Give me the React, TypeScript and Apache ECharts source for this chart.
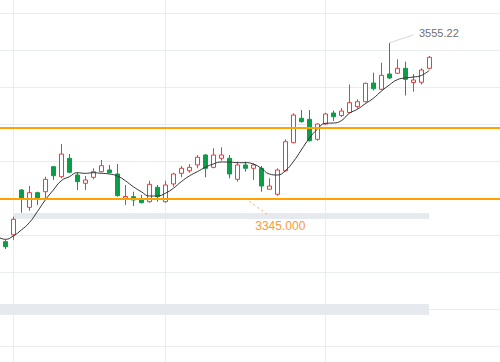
import React, { useEffect, useRef } from "react";
import * as echarts from "echarts";

// Candle values (one leading empty slot is added when building the series)
const opens = [3286.3, 3295.7, 3356.2, 3332.8, 3352.6, 3353.9, 3387.8, 3374.2, 3399.1, 3376.5, 3365.3, 3373.4, 3381, 3383.3, 3377.9, 3345, 3347.2, 3342.7, 3340.4, 3359.9, 3340.4, 3364.4, 3378.8, 3382.3, 3390.1, 3403.6, 3386.9, 3399.1, 3399.1, 3370.7, 3390.1, 3385.6, 3385.6, 3357.2, 3350.4, 3382.3, 3420.2, 3453.3, 3451.9, 3424.8, 3445.5, 3460.4, 3457, 3461.1, 3469, 3475.7, 3501, 3492.5, 3513.2, 3514.2, 3520.9, 3501.7, 3502, 3520.9];
const closes = [3279.5, 3316.6, 3343.6, 3352.6, 3343.6, 3370.7, 3375.6, 3404.9, 3380.2, 3367.5, 3369.8, 3381, 3389.1, 3379.6, 3348.5, 3347.4, 3342.7, 3339, 3363.9, 3347.2, 3363, 3377.9, 3385.6, 3386.9, 3400.5, 3385.6, 3403.6, 3403.6, 3377.9, 3390.1, 3385.6, 3390.1, 3361.6, 3361.6, 3383.3, 3421.6, 3457.7, 3448.7, 3422.9, 3445.5, 3459.1, 3455.4, 3463.1, 3474.4, 3475.7, 3500.6, 3493.3, 3511.4, 3507.8, 3520.9, 3506, 3505.1, 3518.6, 3535.8];
const lows = [3276.4, 3288.6, 3325.5, 3328.2, 3335.9, 3342.7, 3369.8, 3372.1, 3378.8, 3356.2, 3356.2, 3370.7, 3380.2, 3378.8, 3347.2, 3335.9, 3334.6, 3338.2, 3339, 3340.4, 3339, 3360.7, 3373.4, 3379.6, 3385.6, 3373.4, 3385.6, 3395.9, 3372.1, 3367.5, 3381, 3369.8, 3353.9, 3357.2, 3348.5, 3381, 3419.4, 3447.3, 3421.6, 3422.9, 3444.2, 3449.6, 3455, 3460.4, 3466.5, 3474.9, 3490.9, 3491.6, 3506.4, 3513.2, 3484.1, 3489.3, 3499, 3519.6];
const highs = [3288.6, 3320.1, 3357.6, 3361.6, 3353.9, 3374.2, 3388.7, 3418.5, 3404.9, 3380.2, 3375.2, 3385.6, 3396.8, 3390.1, 3391.4, 3363, 3353.9, 3349.5, 3368.8, 3363, 3368.8, 3379.6, 3388.7, 3391.4, 3403.6, 3404.9, 3412.7, 3414, 3403.6, 3394.5, 3394.5, 3392.4, 3388.7, 3372.1, 3385.6, 3424.8, 3460, 3464.5, 3464.5, 3446.5, 3460.8, 3463.8, 3467.2, 3499, 3479, 3501.4, 3515, 3528.5, 3555.22, 3533.1, 3529.8, 3513.2, 3520.9, 3537.6];

// Moving-average line (first value is the slot before the first candle)
const maLead = 3293.6;
const maValues = [3289.5, 3294, 3302.1, 3312, 3326.9, 3342.7, 3356.2, 3368.8, 3374.2, 3379.6, 3378.8, 3379.6, 3378.8, 3377.9, 3375.2, 3368.8, 3360.7, 3353.9, 3348.1, 3348.1, 3351.8, 3358.5, 3367.5, 3375.2, 3381, 3386.9, 3391.4, 3394.1, 3394.1, 3393.2, 3393.2, 3391.4, 3385.6, 3377.9, 3376.5, 3382.3, 3394.5, 3410.4, 3426.2, 3438.4, 3446.5, 3446.9, 3450, 3460, 3465.4, 3473, 3480.3, 3489.9, 3498.3, 3505.5, 3507.8, 3509.1, 3511.2, 3518.2];

// Reference levels
const upperLevel = 3440;
const lowerLevel = 3345;
const lowerLevelLabel = "3345.000";

// Category slots (axis has room beyond the last candle)
const categoryCount = 64;
const categories = Array.from({ length: categoryCount }, (_, i) => String(i));
const verticalGridIdx = [2, 21, 41];

export default function App() {
  const ref = useRef<HTMLDivElement>(null);

  useEffect(() => {
    if (!ref.current) return;
    const chart = echarts.init(ref.current, undefined, { renderer: "svg" });

    const candleData: any[] = [["-", "-", "-", "-"]];
    for (let i = 0; i < opens.length; i++) {
      candleData.push([opens[i], closes[i], lows[i], highs[i]]);
    }
    const maData = [maLead, ...maValues];

    const maxHigh = Math.max(...highs);
    const maxIdx = highs.indexOf(maxHigh) + 1;

    const option: any = {
      animation: false,
      textStyle: { fontFamily: "Liberation Sans, Arial, sans-serif" },
      grid: {
        left: -2.7,
        right: -1.3,
        top: -23.4,
        bottom: -21.05,
        containLabel: false,
        outerBoundsMode: "none",
      },
      xAxis: {
        type: "category",
        data: categories,
        boundaryGap: false,
        axisLine: { show: false },
        axisTick: { show: false },
        axisLabel: { show: false },
        splitLine: {
          show: true,
          interval: (i: number) => verticalGridIdx.includes(i),
          lineStyle: { color: "#e9ecf1", width: 1 },
        },
      },
      yAxis: {
        type: "value",
        min: 3095,
        max: 3645,
        interval: 50,
        axisLine: { show: false },
        axisTick: { show: false },
        axisLabel: { show: false },
        splitLine: { show: true, lineStyle: { color: "#e9ecf1", width: 1 } },
      },
      graphic: [
        { type: "rect", z: 1, shape: { x: 13, y: 213, width: 416, height: 6 }, style: { fill: "#e6e9ee" } },
        { type: "rect", z: 1, shape: { x: 0, y: 304, width: 429, height: 11 }, style: { fill: "#e6e9ee" } },
      ],
      series: [
        {
          type: "candlestick",
          data: candleData,
          barWidth: 4,
          itemStyle: {
            color: "#ffffff",
            color0: "#0b9e46",
            borderColor: "#eb3c3c",
            borderColor0: "#0b9e46",
            borderWidth: 1,
          },
          markLine: {
            silent: true,
            symbol: ["none", "none"],
            label: { show: false },
            data: [
              { yAxis: upperLevel, lineStyle: { color: "#ffa200", width: 2, type: "solid" } },
              { yAxis: lowerLevel, lineStyle: { color: "#ffa200", width: 2, type: "solid" } },
              [
                { coord: [31, lowerLevel], lineStyle: { color: "#f8a55a", width: 1, type: [2, 3] } },
                { coord: [34, 3321] },
              ],
              [
                {
                  coord: [maxIdx, maxHigh],
                  lineStyle: { color: "#d4d8e0", width: 1, type: "solid" },
                  label: {
                    show: true,
                    position: "end",
                    distance: 6,
                    formatter: String(maxHigh),
                    color: "#6e7079",
                    fontSize: 11,
                  },
                },
                { coord: [52, 3566] },
              ],
            ],
          },
          markPoint: {
            silent: true,
            data: [
              {
                coord: [35, 3308],
                symbol: "circle",
                symbolSize: 1,
                itemStyle: { color: "rgba(0,0,0,0)" },
                label: {
                  show: true,
                  position: "inside",
                  offset: [3, 0],
                  formatter: lowerLevelLabel,
                  color: "#f89a3a",
                  fontSize: 12,
                },
              },
            ],
          },
        },
        {
          type: "line",
          data: maData,
          smooth: true,
          symbol: "none",
          lineStyle: { color: "#333333", width: 1 },
        },
      ],
    };

    chart.setOption(option);
    return () => chart.dispose();
  }, []);

  return (
    <div
      ref={ref}
      style={{ position: "fixed", left: 0, top: 0, width: 500, height: 362, background: "#ffffff" }}
    />
  );
}
